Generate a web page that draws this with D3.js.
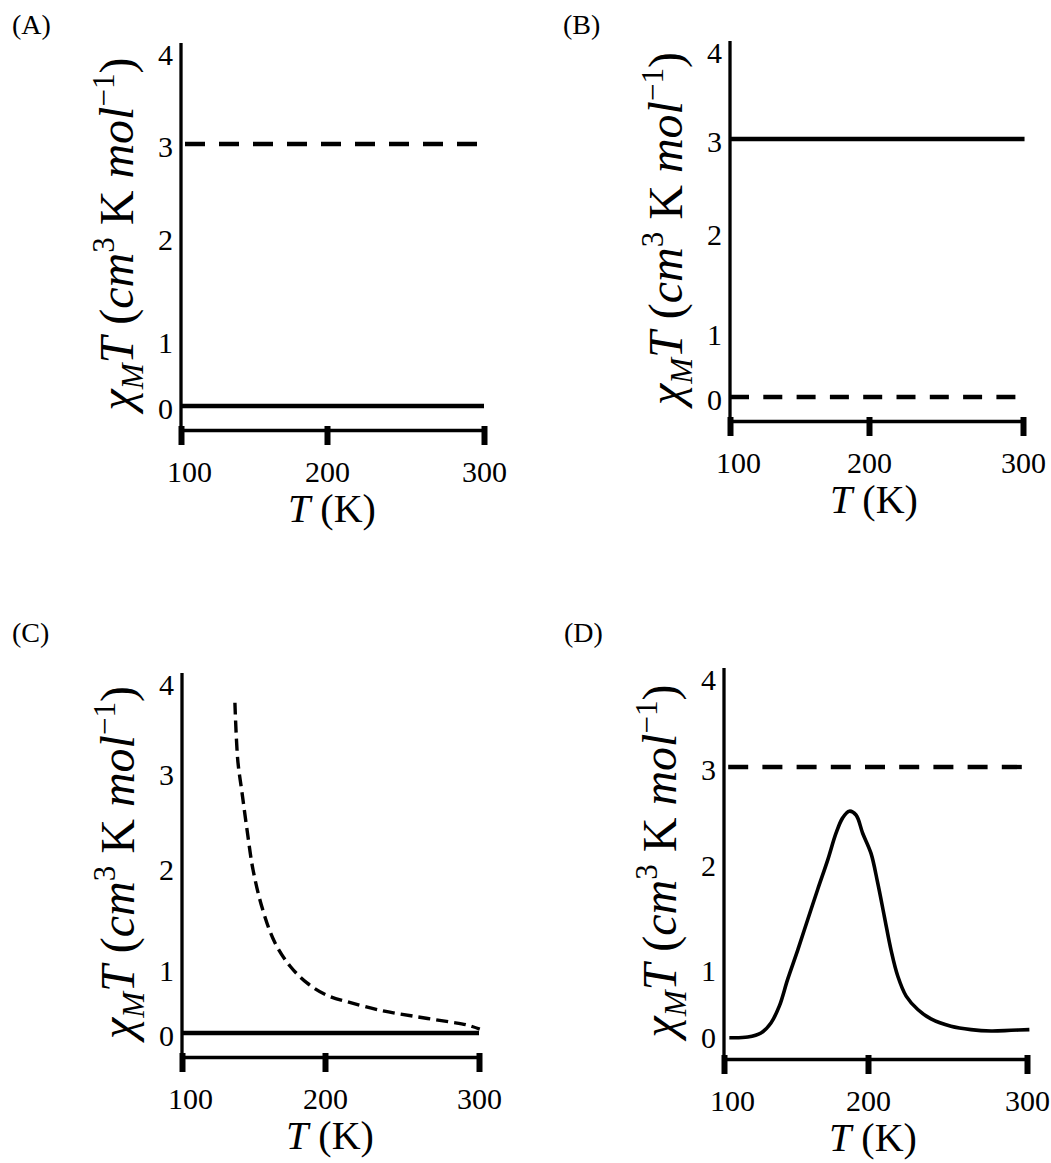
<!DOCTYPE html>
<html>
<head>
<meta charset="utf-8">
<script src="https://cdn.jsdelivr.net/npm/d3@7"></script>
<style>
  body { margin: 0; background: #fff; }
  svg { display: block; font-family: "Liberation Serif", "Times New Roman", serif; }
</style>
</head>
<body>
<div id="chart"></div>
<script>
// tick values shared by every panel
const tempTicks = [100, 200, 300];
const chiTicks = [0, 1, 2, 3, 4];
const panelNames = ["(A)", "(B)", "(C)", "(D)"];

// series, [T in K, chiM*T]
const seriesA_solid = [[100, 0], [300, 0]];
const seriesA_dashed = [[100, 3], [300, 3]];
const seriesB_solid = [[100, 3], [301, 3]];
const seriesB_dashed = [[100, 0], [300, 0]];
const seriesC_solid = [[100, 0], [300, 0]];
const seriesC_dashed = [
  [137, 3.77], [139, 3.13], [142, 2.78], [145.5, 2.39], [149.7, 1.97],
  [156.6, 1.57], [165, 1.25], [175.5, 1.02], [187.4, 0.77], [201.3, 0.58],
  [216, 0.47], [237.7, 0.34], [259.7, 0.25], [281, 0.17], [292, 0.125], [300.5, 0.06]
];
const seriesD_solid = [
  [103.7, -0.04], [116.5, -0.03], [125.7, 0.03], [132.6, 0.18], [138.4, 0.43],
  [144.2, 0.83], [151.2, 1.17], [158.1, 1.46], [165.1, 1.75], [172, 2.03],
  [177.8, 2.31], [182.4, 2.47], [187, 2.54], [191.7, 2.5], [196.3, 2.31],
  [201.9, 2.1], [206.1, 1.81], [210.3, 1.49], [214.5, 1.17], [218.7, 0.88],
  [224, 0.58], [231.3, 0.38], [239.6, 0.24], [252.2, 0.13], [264.8, 0.08],
  [277.4, 0.06], [290, 0.07], [301.5, 0.08]
];
const seriesD_dashed = [[100, 3], [300, 3]];

// layout of each panel (hand-drawn figure: tick spacing is uneven)
const panels = [
  { name: panelNames[0], labelAt: [12, 34], xPos: [181, 327, 484], yPos: [406, 340, 237, 144, 52],
    solid: seriesA_solid, dashed: seriesA_dashed, dash: "20 14", dashOffset: 30, curve: false },
  { name: panelNames[1], labelAt: [563, 34], xPos: [730, 869, 1023], yPos: [397, 332, 232, 139, 50],
    solid: seriesB_solid, dashed: seriesB_dashed, dash: "19 14.3", dashOffset: 0, curve: false },
  { name: panelNames[2], labelAt: [12, 642], xPos: [182, 325, 479], yPos: [1033, 968, 867, 772, 682],
    solid: seriesC_solid, dashed: seriesC_dashed, dash: "12 6", dashOffset: 0, curve: true },
  { name: panelNames[3], labelAt: [564, 642], xPos: [724, 868, 1027], yPos: [1035, 968, 863, 767, 677],
    solid: seriesD_solid, dashed: seriesD_dashed, dash: "20 14.2", dashOffset: 30, curve: true }
];

const svg = d3.select("#chart").append("svg")
  .attr("width", 1051)
  .attr("height", 1163);

svg.append("rect").attr("width", 1051).attr("height", 1163).attr("fill", "#fff");

panels.forEach(p => {
  const g = svg.append("g");
  const x = d3.scaleLinear().domain(tempTicks).range(p.xPos);
  const y = d3.scaleLinear().domain(chiTicks).range(p.yPos);
  const axisY = y(0) + 24;

  // panel letter
  g.append("text")
    .attr("x", p.labelAt[0])
    .attr("y", p.labelAt[1])
    .style("font-size", "28px")
    .text(p.name);

  // x axis
  const xa = g.append("g")
    .attr("transform", `translate(0,${axisY})`)
    .call(d3.axisBottom(x).tickValues(tempTicks).tickSize(15).tickSizeOuter(0).tickFormat(d3.format("d")))
    .attr("font-family", null)
    .attr("font-size", null);
  xa.select(".domain").attr("stroke", "#000").attr("stroke-width", 3.3);
  xa.selectAll(".tick line").attr("y1", -4).attr("y2", 15).attr("stroke", "#000").attr("stroke-width", 6);
  xa.selectAll(".tick text")
    .attr("y", 41).attr("dy", "0.35em")
    .attr("dx", (d, i) => i === 0 ? 8 : 0)
    .attr("fill", "#000")
    .style("font-size", "30px");

  // y axis labels
  const ya = g.append("g")
    .attr("transform", `translate(${x(100)},0)`)
    .call(d3.axisLeft(y).tickValues(chiTicks).tickSize(0).tickPadding(8).tickFormat(d3.format("d")))
    .attr("font-family", null)
    .attr("font-size", null);
  ya.select(".domain").remove();
  ya.selectAll(".tick text")
    .attr("y", 3)
    .attr("fill", "#000")
    .style("font-size", "30px");

  // y axis line, runs down to the x axis
  g.append("line")
    .attr("x1", x(100)).attr("x2", x(100))
    .attr("y1", y(4) - 9).attr("y2", axisY)
    .attr("stroke", "#000").attr("stroke-width", 3.3);

  const line = d3.line()
    .x(d => x(d[0]))
    .y(d => y(d[1]));
  if (p.curve) line.curve(d3.curveCatmullRom.alpha(0.5));

  g.append("path")
    .datum(p.solid)
    .attr("d", line)
    .attr("fill", "none")
    .attr("stroke", "#000")
    .attr("stroke-width", p.curve && p.solid.length > 2 ? 3.6 : 4.3);

  g.append("path")
    .datum(p.dashed)
    .attr("d", line)
    .attr("fill", "none")
    .attr("stroke", "#000")
    .attr("stroke-width", p.dashed.length > 2 ? 3.4 : 4.3)
    .attr("stroke-dasharray", p.dash)
    .attr("stroke-dashoffset", p.dashOffset);

  // axis titles
  const xt = g.append("text")
    .attr("x", x(200) + 5)
    .attr("y", axisY + 92)
    .attr("text-anchor", "middle")
    .style("font-size", "40px");
  xt.append("tspan").style("font-style", "italic").text("T");
  xt.append("tspan").text(" (K)");

  const midY = (y(0) + y(4)) / 2 + 5;
  const yt = g.append("text")
    .attr("transform", `translate(${x(100) - 48},${midY}) rotate(-90)`)
    .attr("text-anchor", "middle")
    .style("font-size", "48px");
  yt.append("tspan").style("font-style", "italic").text("χ");
  yt.append("tspan").style("font-style", "italic").style("font-size", "31px").attr("dy", 10).text("M");
  yt.append("tspan").style("font-style", "italic").attr("dy", -10).text("T");
  yt.append("tspan").text(" (");
  yt.append("tspan").style("font-style", "italic").text("cm");
  yt.append("tspan").style("font-size", "31px").attr("dy", -19).text("3");
  yt.append("tspan").attr("dy", 19).text(" K ");
  yt.append("tspan").style("font-style", "italic").text("mol");
  yt.append("tspan").style("font-size", "31px").attr("dy", -19).text("−1");
  yt.append("tspan").attr("dy", 19).text(")");
});
</script>
</body>
</html>
